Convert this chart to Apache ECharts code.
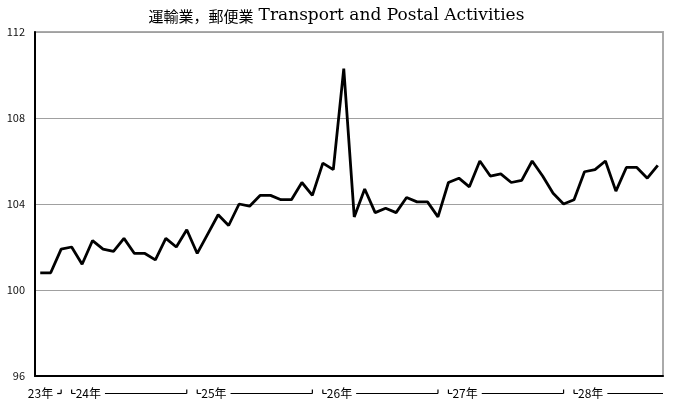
<!DOCTYPE html>
<html>
<head>
<meta charset="utf-8">
<script src="https://cdn.jsdelivr.net/npm/echarts@6/dist/echarts.min.js"></script>
<style>
  html, body { margin: 0; padding: 0; background: #fff; }
  #main { width: 673px; height: 405px; }
</style>
</head>
<body>
<div id="main"></div>
<script>
// 2011/10 - 2016/09 monthly index
var months = [];
for (var y = 2011; y <= 2016; y++) {
    for (var m = 1; m <= 12; m++) {
        if ((y === 2011 && m < 10) || (y === 2016 && m > 9)) continue;
        months.push(y + '/' + m);
    }
}

var values = [
    100.8, 100.8, 101.9,
    102.0, 101.2, 102.3, 101.9, 101.8, 102.4, 101.7, 101.7, 101.4, 102.4, 102.0, 102.8,
    101.7, 102.6, 103.5, 103.0, 104.0, 103.9, 104.4, 104.4, 104.2, 104.2, 105.0, 104.4,
    105.9, 105.6, 110.3, 103.4, 104.7, 103.6, 103.8, 103.6, 104.3, 104.1, 104.1, 103.4,
    105.0, 105.2, 104.8, 106.0, 105.3, 105.4, 105.0, 105.1, 106.0, 105.3, 104.5, 104.0,
    104.2, 105.5, 105.6, 106.0, 104.6, 105.7, 105.7, 105.2, 105.8
];

// year brackets under the axis (first / last month index of each year)
var yearLabels = ['23年', '24年', '25年', '26年', '27年', '28年'];
var yearStart = [0, 3, 15, 27, 39, 51];
var yearEnd = [2, 14, 26, 38, 50, 59];

var yTicks = [96, 100, 104, 108, 112];

var labelFont = '12px "Noto Sans CJK JP"';

var myChart = echarts.init(document.getElementById('main'));

function renderYear(params, api) {
    var i = params.dataIndex;
    var p0 = api.coord([api.value(0), yTicks[0]]);
    var p1 = api.coord([api.value(1), yTicks[0]]);
    var half = api.size([1, 0])[0] / 2;
    var ly = Math.round(p0[1] + 17) + 0.5;
    var ls = { stroke: '#000', lineWidth: 1.2 };
    var kids = [];
    if (i === 0) {
        kids.push({ type: 'line', shape: { x1: p1[0] - 4, y1: ly, x2: p1[0], y2: ly }, style: ls });
        kids.push({ type: 'line', shape: { x1: p1[0], y1: ly - 4, x2: p1[0], y2: ly }, style: ls });
        kids.push({ type: 'text', style: { text: yearLabels[i], x: p1[0] - 8, y: ly, font: labelFont, fill: '#000', align: 'right', verticalAlign: 'middle' } });
        return { type: 'group', children: kids };
    }
    var last = i === yearLabels.length - 1;
    var x0 = p0[0];
    var x1 = last ? p1[0] + half : p1[0];
    kids.push({ type: 'line', shape: { x1: x0, y1: ly, x2: x1, y2: ly }, style: ls });
    kids.push({ type: 'line', shape: { x1: x0, y1: ly - 4, x2: x0, y2: ly }, style: ls });
    if (!last) {
        kids.push({ type: 'line', shape: { x1: x1, y1: ly - 4, x2: x1, y2: ly }, style: ls });
    }
    kids.push({
        type: 'text',
        style: {
            text: yearLabels[i], x: x0 + 4, y: ly, font: labelFont, fill: '#000',
            align: 'left', verticalAlign: 'middle', backgroundColor: '#fff', padding: [0, 4, 0, 0]
        }
    });
    return { type: 'group', children: kids };
}

var option = {
    animation: false,
    backgroundColor: '#fff',
    title: {
        text: '{a|運輸業，郵便業} {b|Transport and Postal Activities}',
        left: 'center',
        top: 2,
        textStyle: {
            fontWeight: 'normal',
            rich: {
                a: { fontFamily: 'Noto Sans CJK JP', fontSize: 15, fontWeight: 'normal', color: '#000' },
                b: { fontFamily: 'DejaVu Serif', fontSize: 17, fontWeight: 'normal', color: '#000' }
            }
        }
    },
    grid: {
        left: 35,
        right: 10,
        top: 32,
        bottom: 29,
        show: true,
        borderColor: '#aaa',
        borderWidth: 2
    },
    xAxis: {
        type: 'category',
        data: months,
        boundaryGap: true,
        axisLine: { lineStyle: { color: '#000', width: 2 } },
        axisTick: { inside: true, length: 3, interval: 0, lineStyle: { color: '#555' } },
        axisLabel: { show: false },
        splitLine: { show: false }
    },
    yAxis: {
        type: 'value',
        min: 96,
        max: 112,
        interval: 4,
        axisLine: { show: true, lineStyle: { color: '#000', width: 2 } },
        axisTick: { show: false },
        axisLabel: { fontFamily: 'Noto Sans CJK JP', fontSize: 11, color: '#111', margin: 10 },
        splitLine: { lineStyle: { color: '#a0a0a0', width: 1 } }
    },
    series: [
        {
            type: 'line',
            data: values,
            showSymbol: false,
            symbol: 'none',
            lineStyle: { color: '#000', width: 2.8 },
            z: 3
        },
        {
            type: 'custom',
            data: yearStart.map(function (s, k) { return [s, yearEnd[k]]; }),
            encode: { x: 0 },
            renderItem: renderYear,
            clip: false,
            silent: true
        }
    ]
};

myChart.setOption(option);
</script>
</body>
</html>
